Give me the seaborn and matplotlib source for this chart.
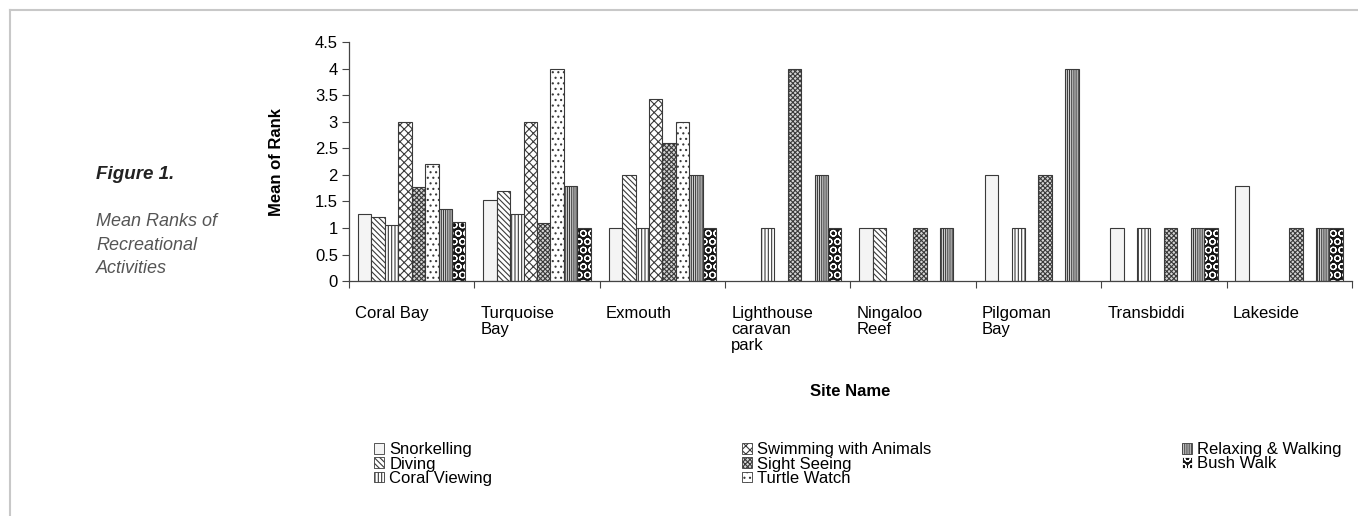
import numpy as np
import pandas as pd
import matplotlib
matplotlib.use("Agg")
import matplotlib.pyplot as plt
import seaborn as sns
from matplotlib.patches import Patch, Rectangle
from matplotlib.lines import Line2D
from matplotlib.ticker import FuncFormatter, MultipleLocator

# data
sites = ["Coral Bay", "Turquoise\nBay", "Exmouth", "Lighthouse\ncaravan\npark",
         "Ningaloo\nReef", "Pilgoman\nBay", "Transbiddi", "Lakeside"]
activities = ["Snorkelling", "Diving", "Coral Viewing", "Swimming with Animals",
              "Sight Seeing", "Turtle Watch", "Relaxing & Walking", "Bush Walk"]
nan = np.nan
snorkelling = [1.27, 1.53, 1.0, nan, 1.0, 2.0, 1.0, 1.8]
diving = [1.2, 1.69, 2.0, nan, 1.0, nan, nan, nan]
coral_viewing = [1.05, 1.27, 1.0, 1.0, nan, 1.0, 1.0, nan]
swimming = [3.0, 3.0, 3.42, nan, nan, nan, nan, nan]
sight_seeing = [1.77, 1.09, 2.6, 4.0, 1.0, 2.0, 1.0, 1.0]
turtle_watch = [2.2, 4.0, 3.0, nan, nan, nan, nan, nan]
relaxing = [1.35, 1.8, 2.0, 2.0, 1.0, 4.0, 1.0, 1.0]
bush_walk = [1.12, 1.0, 1.0, 1.0, nan, nan, 1.0, 1.0]
series = [snorkelling, diving, coral_viewing, swimming,
          sight_seeing, turtle_watch, relaxing, bush_walk]

rows = []
for act, vals in zip(activities, series):
    for site, v in zip(sites, vals):
        if not np.isnan(v):
            rows.append({"site": site, "activity": act, "rank": v})
df = pd.DataFrame(rows)

plt.rcParams['font.family'] = ['Liberation Sans', 'DejaVu Sans']
plt.rcParams['hatch.linewidth'] = 0.8

# (facecolor, hatch) per activity
styles = {
    "Snorkelling": ("#f4f4f4", ""),
    "Diving": ("white", "\\" * 6),
    "Coral Viewing": ("white", "|" * 5),
    "Swimming with Animals": ("white", "x" * 4),
    "Sight Seeing": ("#d4d4d4", "x" * 7),
    "Turtle Watch": ("white", "..."),
    "Relaxing & Walking": ("white", "|" * 9),
    "Bush Walk": ("#151515", "OO"),
}
edge = "#3a3a3a"

fig = plt.figure(figsize=(13.58, 5.16), dpi=100)
ax = fig.add_axes([0.257, 0.455, 0.7385, 0.4635])

sns.barplot(data=df, x="site", y="rank", hue="activity", order=sites,
            hue_order=activities, width=0.857, gap=0, errorbar=None,
            palette={a: styles[a][0] for a in activities}, saturation=1,
            edgecolor=edge, linewidth=0.8, legend=False, ax=ax)

for cont, act in zip(ax.containers, activities):
    fc, hatch = styles[act]
    for p in cont:
        p.set_facecolor(fc)
        if act == "Bush Walk":
            p.set_edgecolor("white")
            p.set_hatch(hatch)
            ax.add_patch(Rectangle(p.get_xy(), p.get_width(), p.get_height(),
                                   fill=False, edgecolor=edge, lw=0.8))
        else:
            p.set_edgecolor(edge)
            p.set_hatch(hatch)

# axes styling
ax.set_xlim(-0.5, len(sites) - 0.5)
ax.set_ylim(0, 4.5)
ax.yaxis.set_major_locator(MultipleLocator(0.5))
ax.yaxis.set_major_formatter(FuncFormatter(lambda v, pos: f"{v:g}"))
ax.set_xticks(np.arange(len(sites)) - 0.45)
ax.set_xticklabels(sites, ha="left", va="top", fontsize=12, linespacing=1.08)
ax.set_xticks(np.arange(len(sites) + 1) - 0.5, minor=True)
ax.tick_params(axis="x", which="major", length=0, pad=18)
ax.tick_params(axis="x", which="minor", length=5, width=0.8, color="#444", direction="out")
ax.tick_params(axis="y", length=5, width=0.8, color="#444", labelsize=12, pad=3)
for s in ["top", "right"]:
    ax.spines[s].set_visible(False)
for s in ["left", "bottom"]:
    ax.spines[s].set_color("#444")
    ax.spines[s].set_linewidth(0.9)

ax.set_ylabel("Mean of Rank", fontsize=12, fontweight="bold", labelpad=22)
ax.set_xlabel("Site Name", fontsize=12, fontweight="bold")
ax.xaxis.set_label_coords(0.5, -0.43)

# legend
handles = []
for act in activities:
    fc, hatch = styles[act]
    ec = "white" if act == "Bush Walk" else edge
    handles.append(Patch(facecolor=fc, edgecolor=ec, hatch=hatch, lw=0.6, label=act))
fig.legend(handles=handles, loc="upper left", bbox_to_anchor=(366 / 1358, 1 - 434 / 516),
           ncol=3, frameon=False, fontsize=12, handlelength=0.6, handleheight=0.6,
           handletextpad=0.3, labelspacing=-0.05, columnspacing=15.0, borderpad=0)

# figure caption on the left
fig.text(96 / 1358, 1 - 175 / 516, "Figure 1.", fontsize=13.5, fontweight="bold",
         fontstyle="italic", color="#222", va="center", ha="left")
fig.text(96 / 1358, 1 - 213 / 516, "Mean Ranks of\nRecreational\nActivities",
         fontsize=13, fontstyle="italic", color="#555", va="top", ha="left", linespacing=1.5)

# thin page border lines
fig.add_artist(Line2D([10 / 1358, 1], [1 - 10 / 516, 1 - 10 / 516],
                      transform=fig.transFigure, color="#c8c8c8", lw=1.5))
fig.add_artist(Line2D([10 / 1358, 10 / 1358], [0, 1 - 10 / 516],
                      transform=fig.transFigure, color="#c8c8c8", lw=1.5))

plt.savefig("out.png", dpi=100)
